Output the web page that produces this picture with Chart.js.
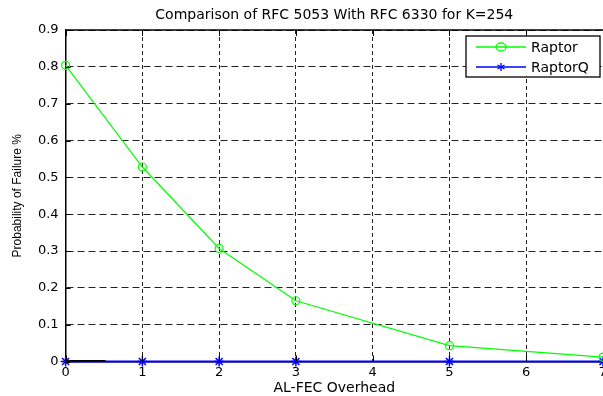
<!DOCTYPE html>
<html>
<head>
<meta charset="utf-8">
<script src="https://cdn.jsdelivr.net/npm/chart.js@4/dist/chart.umd.min.js"></script>
<style>
  html, body { margin: 0; padding: 0; background: #fff; }
  canvas { display: block; }
</style>
</head>
<body>
<canvas id="grafico" width="603" height="396"></canvas>
<script>
// datos
var overhead = [0, 1, 2, 3, 5, 7];
var raptor = [0.804, 0.528, 0.307, 0.165, 0.043, 0.012];
var raptorQ = [0, 0, 0, 0, 0, 0];
var stubX = [0, 0.52];
var stubY = [0, 0];
var xTicks = [0, 1, 2, 3, 4, 5, 6, 7];
var yTicks = [0, 0.1, 0.2, 0.3, 0.4, 0.5, 0.6, 0.7, 0.8, 0.9];

function puntos(xs, ys) {
    return xs.map(function (x, i) { return { x: x, y: ys[i] }; });
}

(function () {

    Chart.defaults.font.family = 'DejaVu Sans';
    Chart.defaults.color = '#000';

    // leyenda con recuadro y marcas de eje hacia dentro
    var extras = {
        id: 'extras',
        afterDraw: function (chart) {
            var ctx = chart.ctx;
            var a = chart.chartArea;
            var sx = chart.scales.x, sy = chart.scales.y;
            ctx.save();
            ctx.strokeStyle = '#000';
            ctx.lineWidth = 1.5;
            ctx.beginPath();
            ctx.moveTo(a.left, a.top);
            ctx.lineTo(chart.width, a.top);
            ctx.stroke();
            ctx.lineWidth = 1;
            yTicks.forEach(function (v) {
                var y = Math.round(sy.getPixelForValue(v)) + 0.5;
                ctx.beginPath();
                ctx.moveTo(a.left, y);
                ctx.lineTo(a.left + 5, y);
                ctx.stroke();
            });
            xTicks.forEach(function (v) {
                var x = Math.round(sx.getPixelForValue(v)) + 0.5;
                ctx.beginPath();
                ctx.moveTo(x, a.top);
                ctx.lineTo(x, a.top + 6);
                ctx.moveTo(x, a.bottom);
                ctx.lineTo(x, a.bottom - 6);
                ctx.stroke();
            });

            // recuadro de leyenda
            var bx = 466, by = 36, bw = 134, bh = 41;
            ctx.fillStyle = '#fff';
            ctx.fillRect(bx, by, bw, bh);
            ctx.lineWidth = 1.3;
            ctx.strokeStyle = '#000';
            ctx.strokeRect(bx, by, bw, bh);
            var items = chart.data.datasets.filter(function (d) { return d.label; });
            items.forEach(function (d, i) {
                var y = by + 11 + i * 20;
                ctx.strokeStyle = d.borderColor;
                ctx.lineWidth = 1.3;
                ctx.beginPath();
                ctx.moveTo(476, y);
                ctx.lineTo(526, y);
                ctx.stroke();
                ctx.beginPath();
                if (d.pointStyle === 'circle') {
                    ctx.ellipse(501, y, 5, 4, 0, 0, Math.PI * 2);
                } else {
                    ctx.moveTo(501, y - 4); ctx.lineTo(501, y + 4);
                    ctx.moveTo(497.5, y - 2); ctx.lineTo(504.5, y + 2);
                    ctx.moveTo(497.5, y + 2); ctx.lineTo(504.5, y - 2);
                }
                ctx.stroke();
                ctx.fillStyle = '#000';
                ctx.font = '14px "DejaVu Sans"';
                ctx.textBaseline = 'middle';
                ctx.textAlign = 'left';
                ctx.fillText(d.label, 531, y + 1);
            });
            ctx.restore();
        }
    };

    var ctx = document.getElementById('grafico').getContext('2d');
    var grafico = new Chart(ctx, {
        type: 'line',
        data: {
            datasets: [{
                data: puntos(stubX, stubY),
                borderColor: '#000',
                borderWidth: 3,
                pointRadius: 0,
                order: 0
            }, {
                label: 'Raptor',
                data: puntos(overhead, raptor),
                borderColor: '#00ff00',
                backgroundColor: 'rgba(0,0,0,0)',
                borderWidth: 1.2,
                pointStyle: 'circle',
                pointRadius: 4,
                pointBorderWidth: 1.2,
                pointBorderColor: '#00ff00',
                pointBackgroundColor: 'rgba(0,0,0,0)',
                clip: false,
                order: 1
            }, {
                label: 'RaptorQ',
                data: puntos(overhead, raptorQ),
                borderColor: '#0000ff',
                backgroundColor: '#0000ff',
                borderWidth: 2,
                pointStyle: 'star',
                pointRadius: 5,
                pointBorderWidth: 1.5,
                pointBorderColor: '#0000ff',
                clip: false,
                order: 2
            }]
        },
        options: {
            responsive: false,
            animation: false,
            layout: {
                autoPadding: false,
                padding: { left: 0, right: -3, top: 0, bottom: 0 }
            },
            plugins: {
                legend: { display: false },
                tooltip: { enabled: false },
                title: {
                    display: true,
                    fullSize: false,
                    text: 'Comparison of RFC 5053 With RFC 6330 for K=254',
                    color: '#000',
                    font: { family: 'DejaVu Sans', size: 14, weight: 'normal' },
                    padding: { top: 6.6, bottom: 6.6 }
                }
            },
            scales: {
                x: {
                    type: 'linear',
                    min: 0,
                    max: 7,
                    afterBuildTicks: function (s) {
                        s.ticks = xTicks.map(function (v) { return { value: v }; });
                    },
                    afterFit: function (s) {
                        s.height = 34.5;
                        s.paddingLeft = 0;
                        s.paddingRight = 0;
                    },
                    ticks: {
                        padding: 3,
                        maxRotation: 0,
                        autoSkip: false,
                        font: { size: 13 },
                        callback: function (v) { return String(v); }
                    },
                    grid: {
                        color: '#222',
                        lineWidth: 1,
                        drawTicks: false
                    },
                    border: { color: '#000', width: 1.5, dash: [4, 3] },
                    title: {
                        display: true,
                        text: 'AL-FEC Overhead',
                        font: { size: 14 },
                        padding: { top: 0, bottom: -1 }
                    }
                },
                y: {
                    min: 0,
                    max: 0.9,
                    afterBuildTicks: function (s) {
                        s.ticks = yTicks.map(function (v) { return { value: v }; });
                    },
                    afterFit: function (s) {
                        s.width = 65.6;
                        s.paddingTop = 0;
                        s.paddingBottom = 0;
                    },
                    ticks: {
                        padding: 7,
                        font: { size: 13 },
                        callback: function (v) { return v === 0 ? '0' : v.toFixed(1); }
                    },
                    grid: {
                        color: '#222',
                        lineWidth: 1,
                        drawTicks: false
                    },
                    border: { color: '#000', width: 1.5, dash: [7, 4] },
                    title: {
                        display: true,
                        text: 'Probability of Failure %',
                        font: { family: 'Liberation Sans', size: 12 },
                        padding: { top: 10.8, bottom: 0 }
                    }
                }
            }
        },
        plugins: [extras]
    });

})();
</script>
</body>
</html>
